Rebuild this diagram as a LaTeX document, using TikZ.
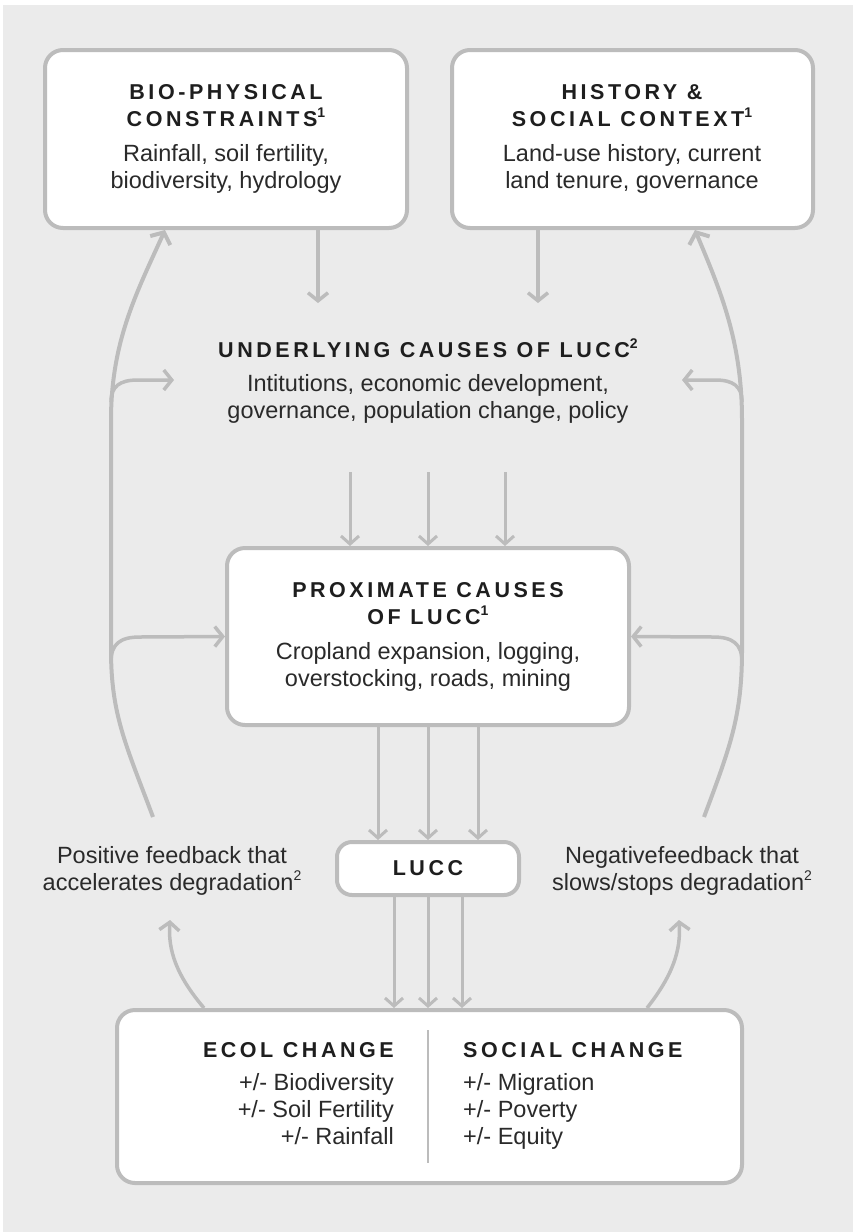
\documentclass[tikz,border=0pt]{standalone}
\usepackage{fontspec}
\setmainfont{Liberation Sans}
\newfontfamily\titlefont[LetterSpace=16.5]{Liberation Sans}
\usetikzlibrary{arrows.meta}
\definecolor{bg}{HTML}{EBEBEB}
\definecolor{edge}{HTML}{BCBCBC}
\definecolor{ink}{HTML}{2A2A2A}
\definecolor{tink}{HTML}{1E1E1E}
\newcommand\ttl[1]{{\color{tink}\titlefont\bfseries\fontsize{21.5}{27}\selectfont #1}}
\newcommand\supnum[1]{\raisebox{0.42em}{\fontsize{14}{14}\selectfont #1}}
\tikzset{
  box/.style={draw=edge, line width=4pt, fill=white, rounded corners=18pt, inner sep=0pt},
  body/.style={font=\fontsize{23.5}{27}\selectfont, text=ink, align=center, inner sep=0pt},
  conn/.style={draw=edge, line width=3.5pt, -{Straight Barb[length=8pt,width=20pt]}},
  thinconn/.style={draw=edge, line width=3pt, -{Straight Barb[length=8pt,width=18pt]}},
  loopline/.style={draw=edge, line width=4pt, -{Straight Barb[length=9pt,width=22pt]}},
}
\begin{document}
\begin{tikzpicture}[x=1pt,y=-1pt]
\useasboundingbox (0,0) rectangle (853,1232);
\fill[white] (0,0) rectangle (853,1232);
\fill[bg] (3,5) rectangle (853,1232);

% boxes
\node[box, minimum width=362pt, minimum height=178pt] (bio) at (226,139) {};
\node[body] (biot) at (226,139) {\ttl{BIO-PHYSICAL}\\ \ttl{CONSTRAINTS\supnum{1}}\\[8pt] Rainfall, soil fertility,\\ biodiversity, hydrology};
\node[box, minimum width=361pt, minimum height=178pt] (hist) at (632.5,139) {};
\node[body] (histt) at (632,139) {\ttl{HISTORY \&}\\ \ttl{SOCIAL CONTEXT\supnum{1}}\\[8pt] Land-use history, current\\ land tenure, governance};

\node[body] (under) at (428,381) {\ttl{UNDERLYING CAUSES OF LUCC\supnum{2}}\\[7pt] Intitutions, economic development,\\ governance, population change, policy};

\node[box, minimum width=402pt, minimum height=177pt] (prox) at (428,636.5) {};
\node[body] (proxt) at (428,637) {\ttl{PROXIMATE CAUSES}\\ \ttl{OF LUCC\supnum{1}}\\[8pt] Cropland expansion, logging,\\ overstocking, roads, mining};

\node[box, rounded corners=15pt, minimum width=182pt, minimum height=53pt] (lucc) at (428,868.5) {\ttl{LUCC}};

\node[body] (posfb) at (172,871) {Positive feedback that\\ accelerates degradation\supnum{2}};
\node[body] (negfb) at (682,871) {Negativefeedback that\\ slows/stops degradation\supnum{2}};

\node[box, minimum width=625pt, minimum height=173pt] (eff) at (429.5,1096.5) {};
\node[body, align=right, anchor=north east] (ecol) at (394,1042) {\ttl{ECOL CHANGE}\\[6pt] +/- Biodiversity\\ +/- Soil Fertility\\ +/- Rainfall};
\node[body, align=left, anchor=north west] (soc) at (463,1042) {\ttl{SOCIAL CHANGE}\\[6pt] +/- Migration\\ +/- Poverty\\ +/- Equity};
\coordinate (dtop) at (428,1030);
\coordinate (dbot) at (428,1163);
\draw[edge, line width=2pt] (dtop) -- (dbot);

% top arrows into underlying
\coordinate (ub) at (318,303);
\coordinate (uh) at (538,303);
\draw[conn] (bio.south -| ub) -- (ub);
\draw[conn] (hist.south -| uh) -- (uh);

% underlying -> proximate
\coordinate (u1) at (350,472);
\coordinate (u2) at (428,472);
\coordinate (u3) at (505,472);
\draw[thinconn] (u1) -- (prox.north -| u1);
\draw[thinconn] (u2) -- (prox.north -| u2);
\draw[thinconn] (u3) -- (prox.north -| u3);

% proximate -> LUCC
\coordinate (p1) at (378,0);
\coordinate (p2) at (428,0);
\coordinate (p3) at (478,0);
\draw[thinconn] (prox.south -| p1) -- (lucc.north -| p1);
\draw[thinconn] (prox.south -| p2) -- (lucc.north -| p2);
\draw[thinconn] (prox.south -| p3) -- (lucc.north -| p3);

% LUCC -> effects
\coordinate (l1) at (394,0);
\coordinate (l2) at (428,0);
\coordinate (l3) at (462,0);
\draw[thinconn] (lucc.south -| l1) -- (eff.north -| l1);
\draw[thinconn] (lucc.south -| l2) -- (eff.north -| l2);
\draw[thinconn] (lucc.south -| l3) -- (eff.north -| l3);

% effects -> feedback labels
\coordinate (eL) at (204,0);
\coordinate (eR) at (647,0);
\coordinate (fL) at (170,920);
\coordinate (fR) at (679,920);
\draw[conn] (eff.north -| eL) .. controls (176,975) and (168,950) .. (fL);
\draw[conn] (eff.north -| eR) .. controls (673,975) and (681,950) .. (fR);

% big feedback loops
\coordinate (lfb) at (153,817);
\coordinate (rfb) at (704,817);
\coordinate (bL) at (165,0);
\coordinate (bR) at (695,0);
\draw[loopline] (lfb) .. controls (126,745) and (111,715) .. (111,650) -- (111,420)
   .. controls (111,340) and (138,290) .. (bio.south -| bL);
\draw[loopline] (rfb) .. controls (731,745) and (742,715) .. (742,650) -- (742,420)
   .. controls (742,340) and (720,290) .. (hist.south -| bR);

% branches into underlying and proximate
\coordinate (uL) at (174,380);
\coordinate (uR) at (682,380);
\draw[conn] (111,402) .. controls (111,386) and (120,380) .. (138,380) -- (uL);
\draw[conn] (742,402) .. controls (742,386) and (733,380) .. (715,380) -- (uR);
\draw[conn] (111,662) .. controls (111,644) and (120,637) .. (140,637) -- (prox.west);
\draw[conn] (742,662) .. controls (742,644) and (733,637) .. (713,637) -- (prox.east);
\end{tikzpicture}
\end{document}
